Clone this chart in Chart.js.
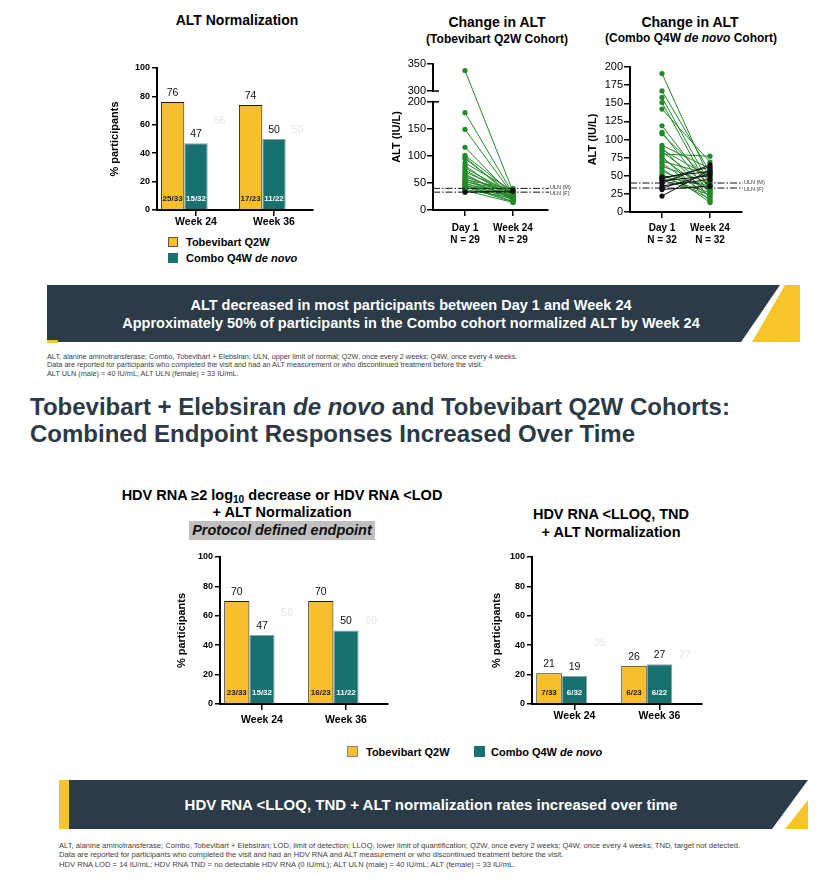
<!DOCTYPE html>
<html><head><meta charset="utf-8">
<script src="https://cdn.jsdelivr.net/npm/chart.js@4.4.1/dist/chart.umd.min.js"></script>
<style>
body{margin:0;background:#fff;font-family:"Liberation Sans",Arial,sans-serif;}
#page{position:relative;width:833px;height:884px;overflow:hidden;background:#fff;}
.t{position:absolute;white-space:nowrap;transform:translate(-50%,-50%);font-weight:bold;color:#000;line-height:1.15;}
.l{position:absolute;white-space:nowrap;}
canvas{position:absolute;}
.sq{position:absolute;box-sizing:border-box;}
.fn{position:absolute;left:47px;color:#404040;white-space:nowrap;}
</style></head>
<body><div id="page">
<svg width="833" height="884" style="position:absolute;left:0;top:0">
  <polygon points="47,285 780,285 741,342 47,342" fill="#2B3B47"/>
  <polygon points="785,285 800,285 800,342 752,342" fill="#F7C42C"/>
  <rect x="47" y="340" width="11" height="3" fill="#F7C42C"/>
  <polygon points="69,780 808,780 772,829 69,829" fill="#2B3B47"/>
  <rect x="59" y="780" width="10" height="49" fill="#F7C42C"/>
  <polygon points="808,800 808,829 785,829" fill="#F7C42C"/>
</svg>

<div class="t" style="left:237px;top:20px;font-size:14px">ALT Normalization</div>
<div class="t" style="left:497px;top:22px;font-size:14px">Change in ALT</div>
<div class="t" style="left:497px;top:40px;font-size:12px">(Tobevibart Q2W Cohort)</div>
<div class="t" style="left:690px;top:22px;font-size:14px">Change in ALT</div>
<div class="t" style="left:691px;top:39px;font-size:12px">(Combo Q4W <i>de novo</i> Cohort)</div>

<div class="sq" style="left:168px;top:237px;width:10px;height:10px;background:#F8BF2C;border:1px solid #555"></div>
<div class="l" style="left:186px;top:235px;font-size:11px;font-weight:bold;line-height:14px">Tobevibart Q2W</div>
<div class="sq" style="left:168px;top:253px;width:10px;height:10px;background:#19716F"></div>
<div class="l" style="left:186px;top:251px;font-size:11px;font-weight:bold;line-height:14px">Combo Q4W <i>de novo</i></div>

<div class="t" style="left:411px;top:305px;font-size:14.5px;color:#fff">ALT decreased in most participants between Day 1 and Week 24</div>
<div class="t" style="left:411px;top:323px;font-size:14.5px;color:#fff">Approximately 50% of participants in the Combo cohort normalized ALT by Week 24</div>

<div class="fn" style="top:353px;line-height:8.3px;font-size:7.3px">ALT, alanine aminotransferase; Combo, Tobevibart + Elebsiran; ULN, upper limit of normal; Q2W, once every 2 weeks; Q4W, once every 4 weeks.<br>Data are reported for participants who completed the visit and had an ALT measurement or who discontinued treatment before the visit.<br>ALT ULN (male) = 40 IU/mL; ALT ULN (female) = 33 IU/mL.</div>

<div class="l" style="left:30px;top:393px;font-size:24px;font-weight:bold;color:#2B3A45;line-height:27px">Tobevibart + Elebsiran <i>de novo</i> and Tobevibart Q2W Cohorts:<br>Combined Endpoint Responses Increased Over Time</div>

<div class="t" style="left:282px;top:495px;font-size:14.5px">HDV RNA ≥2 log<span style="font-size:70%;vertical-align:-0.3em;line-height:0">10</span> decrease or HDV RNA &lt;LOD</div>
<div class="t" style="left:282px;top:512px;font-size:14.5px">+ ALT Normalization</div>
<div style="position:absolute;left:189px;top:521px;width:186px;height:19px;background:#C0C0C0;"></div>
<div class="t" style="left:282px;top:530px;font-size:14.5px;font-style:italic;color:#111">Protocol defined endpoint</div>
<div class="t" style="left:611px;top:514px;font-size:14.5px">HDV RNA &lt;LLOQ, TND</div>
<div class="t" style="left:611px;top:532px;font-size:14.5px">+ ALT Normalization</div>

<div class="sq" style="left:347px;top:746px;width:11px;height:11px;background:#F8BF2C;border:1px solid #888"></div>
<div class="l" style="left:366px;top:745px;font-size:11px;font-weight:bold;line-height:14px">Tobevibart Q2W</div>
<div class="sq" style="left:474px;top:746px;width:11px;height:11px;background:#19716F"></div>
<div class="l" style="left:491px;top:745px;font-size:11px;font-weight:bold;line-height:14px">Combo Q4W <i>de novo</i></div>

<div class="t" style="left:431px;top:805px;font-size:15px;color:#fff">HDV RNA &lt;LLOQ, TND + ALT normalization rates increased over time</div>

<div class="fn" style="left:59px;top:841px;line-height:9.3px;font-size:7.6px">ALT, alanine aminotransferase; Combo, Tobevibart + Elebsiran; LOD, limit of detection; LLOQ, lower limit of quantification; Q2W, once every 2 weeks; Q4W, once every 4 weeks; TND, target not detected.<br>Data are reported for participants who completed the visit and had an HDV RNA and ALT measurement or who discontinued treatment before the visit.<br>HDV RNA LOD = 14 IU/mL; HDV RNA TND = no detectable HDV RNA (0 IU/mL); ALT ULN (male) = 40 IU/mL; ALT (female) = 33 IU/mL.</div>

<canvas id="c1" width="217" height="186" style="left:108px;top:50px"></canvas>
<canvas id="c2" width="185" height="206" style="left:390px;top:54px"></canvas>
<canvas id="c3" width="184" height="205" style="left:586px;top:57px"></canvas>
<canvas id="c4" width="225" height="199" style="left:175px;top:537px"></canvas>
<canvas id="c5" width="222" height="197" style="left:490px;top:537px"></canvas>
</div>
<script>
// ---------- DATA ----------
const barGroups = ['Week 24', 'Week 36'];
// ALT normalization (%)
const altNormTob = [76, 74];
const altNormCombo = [47, 50];
const altNormGhost = [56, 50];
const altNormTobFrac = ['25/33', '17/23'];
const altNormComboFrac = ['15/32', '11/22'];
// HDV RNA >=2 log10 decrease or <LOD + ALT normalization (%)
const protoTob = [70, 70];
const protoCombo = [47, 50];
const protoGhost = [56, 50];
const protoTobFrac = ['23/33', '16/23'];
const protoComboFrac = ['15/32', '11/22'];
// HDV RNA <LLOQ, TND + ALT normalization (%)
const lloqTob = [21, 26];
const lloqCombo = [19, 27];
const lloqGhost = [35, 27];
const lloqTobFrac = ['7/33', '6/23'];
const lloqComboFrac = ['6/32', '6/22'];
const barTicks = [0, 20, 40, 60, 80, 100];

// Change in ALT, Tobevibart Q2W cohort (IU/L)
const tobGreenDay1 = [338, 180, 149, 116, 101, 98, 95, 87, 82, 78, 74, 70, 67, 64, 61, 58, 56, 54, 52, 50, 48, 46, 45, 43, 42, 40, 38, 36];
const tobGreenWk24 = [34, 30, 28, 25, 32, 22, 27, 36, 20, 29, 24, 33, 18, 26, 31, 21, 38, 23, 35, 19, 30, 16, 27, 15, 25, 40, 22, 14];
const tobBlackDay1 = [33];
const tobBlackWk24 = [35];
const tobYTicks = [0, 50, 100, 150, 200, 300, 350];
// Change in ALT, Combo Q4W de novo cohort (IU/L)
const comboGreenDay1 = [191, 167, 158, 151, 142, 119, 110, 108, 92, 89, 86, 83, 80, 77, 74, 70, 67, 63, 60, 56, 52, 49, 47, 44];
const comboGreenWk24 = [45, 55, 38, 30, 69, 33, 25, 42, 60, 20, 48, 35, 77, 15, 28, 52, 22, 40, 13, 32, 18, 36, 27, 24];
const comboBlackDay1 = [48, 46, 43, 40, 36, 33, 31, 22];
const comboBlackWk24 = [56, 62, 50, 65, 45, 53, 36, 58];
const comboYTicks = [0, 25, 50, 75, 100, 125, 150, 175, 200];
const timepoints = ['Day 1', 'Week 24'];
const tobN = 29, comboN = 32;
const ulnValues = [40, 33];
const ulnLabels = ['ULN (M)', 'ULN (F)'];

// ---------- STYLE ----------
const YEL = '#F8BF2C', TEAL = '#19716F', GREEN = '#23892A', BLACK = '#111';
const FONT = '"Liberation Sans", Arial, sans-serif';
Chart.defaults.font.family = FONT;
Chart.defaults.color = '#000';

const barLabelPlugin = {
  id: 'barLabels',
  afterDatasetsDraw(chart) {
    const ctx = chart.ctx;
    chart.data.datasets.forEach((ds, di) => {
      const meta = chart.getDatasetMeta(di);
      meta.data.forEach((bar, i) => {
        ctx.save();
        ctx.textAlign = 'center'; ctx.textBaseline = 'middle';
        ctx.font = '10.5px ' + FONT;
        ctx.fillStyle = ds.valueColor;
        ctx.fillText(String(ds.data[i]), bar.x, bar.y - 9);
        if (ds.fracs) {
          ctx.font = 'bold 8px ' + FONT;
          ctx.fillStyle = ds.fracColor;
          ctx.fillText(ds.fracs[i], bar.x, bar.base - 10);
        }
        ctx.restore();
      });
    });
  }
};

function makeBar(id, c) {
  return new Chart(document.getElementById(id), {
    type: 'bar',
    data: { labels: barGroups, datasets: [
      { data: c.tob, backgroundColor: YEL, borderColor: '#1a1a1a', borderWidth: 1, fracs: c.tobFrac, fracColor: '#1a1a1a', valueColor: '#111' },
      { data: c.combo, backgroundColor: TEAL, borderColor: '#8aa3a4', borderWidth: 1, fracs: c.comboFrac, fracColor: '#fff', valueColor: '#111' },
      { data: c.ghost, backgroundColor: 'rgba(0,0,0,0)', borderWidth: 0, valueColor: '#e3e8ee' }
    ]},
    options: {
      responsive: false, animation: false, devicePixelRatio: 1,
      layout: { padding: { top: c.padTop, right: c.padRight, left: 0, bottom: 0 } },
      plugins: { legend: { display: false }, tooltip: { enabled: false } },
      datasets: { bar: { categoryPercentage: 0.9, barPercentage: 1.0 } },
      scales: {
        x: {
          grid: { offset: false, drawOnChartArea: false, drawTicks: true, tickLength: 6, color: '#000', lineWidth: 1.5 },
          border: { display: true, color: '#000', width: 2 },
          ticks: { font: { weight: 'bold', size: 10.5 }, color: '#000', padding: c.xPad, maxRotation: 0 },
          afterFit(s) { s.height = c.xH; }
        },
        y: {
          min: 0, max: 100,
          afterBuildTicks(s) { s.ticks = barTicks.map(v => ({ value: v })); },
          ticks: { font: { weight: 'bold', size: 9 }, color: '#000', padding: 2 },
          grid: { drawOnChartArea: false, drawTicks: true, tickLength: 5, color: '#000', lineWidth: 1.5 },
          border: { display: true, color: '#000', width: 2 },
          title: { display: true, text: '% participants', font: { weight: 'bold', size: 11 }, color: '#000', padding: 0 },
          afterFit(s) { s.width = c.yW; }
        }
      }
    },
    plugins: [barLabelPlugin]
  });
}

makeBar('c1', { tob: altNormTob, combo: altNormCombo, ghost: altNormGhost, tobFrac: altNormTobFrac, comboFrac: altNormComboFrac, padTop: 18, padRight: 12, xH: 26, xPad: 0, yW: 49 });
makeBar('c4', { tob: protoTob, combo: protoCombo, ghost: protoGhost, tobFrac: protoTobFrac, comboFrac: protoComboFrac, padTop: 20, padRight: 12, xH: 32, xPad: 4, yW: 45 });
makeBar('c5', { tob: lloqTob, combo: lloqCombo, ghost: lloqGhost, tobFrac: lloqTobFrac, comboFrac: lloqComboFrac, padTop: 20, padRight: 10, xH: 30, xPad: 0, yW: 42 });

const ulnPlugin = {
  id: 'uln',
  afterDatasetsDraw(chart) {
    const { ctx, chartArea: a } = chart;
    const y = chart.scales.y;
    ulnValues.forEach((v, i) => {
      const p = y.getPixelForValue(chart.$map(v));
      ctx.save();
      ctx.setLineDash([7, 2, 1.5, 2]);
      ctx.strokeStyle = '#111'; ctx.lineWidth = 1;
      ctx.beginPath(); ctx.moveTo(a.left, p); ctx.lineTo(a.right + 1, p); ctx.stroke();
      ctx.setLineDash([]);
      ctx.font = '5.5px ' + FONT; ctx.fillStyle = '#333'; ctx.textBaseline = 'middle';
      ctx.fillText(ulnLabels[i], a.right + 2, p + (i === 0 ? -1 : 1.5));
      ctx.restore();
    });
  }
};

const breakPlugin = {
  id: 'axisBreak',
  afterDraw(chart) {
    if (!chart.$break) return;
    const { ctx, chartArea: a } = chart;
    const y = chart.scales.y;
    const pTop = y.getPixelForValue(chart.$map(chart.$break[1]));
    const pBot = y.getPixelForValue(chart.$map(chart.$break[0]));
    ctx.save();
    ctx.fillStyle = '#fff';
    ctx.fillRect(a.left - 2, pTop + 1, 4, pBot - pTop - 2);
    ctx.strokeStyle = '#000'; ctx.lineWidth = 1.5;
    [pTop, pBot].forEach(p => { ctx.beginPath(); ctx.moveTo(a.left, p); ctx.lineTo(a.left + 6, p); ctx.stroke(); });
    ctx.restore();
  }
};

function makeScatter(id, c) {
  const map = c.map;
  const sets = [];
  const add = (d1, w24, col) => d1.forEach((v, i) => sets.push({
    data: [{ x: 1, y: map(v) }, { x: 2, y: map(w24[i]) }],
    borderColor: col, backgroundColor: col, borderWidth: 1,
    pointRadius: 2.6, pointBackgroundColor: col, pointBorderWidth: 0
  }));
  add(c.blackD1, c.blackW24, BLACK);
  add(c.greenD1, c.greenW24, GREEN);
  const ch = new Chart(document.getElementById(id), {
    type: 'line',
    data: { datasets: sets },
    options: {
      responsive: false, animation: false, devicePixelRatio: 1,
      layout: { padding: { top: 10, right: c.padRight, left: 0, bottom: 0 } },
      plugins: { legend: { display: false }, tooltip: { enabled: false } },
      scales: {
        x: {
          type: 'linear', min: c.xMin, max: c.xMax,
          afterBuildTicks(s) { s.ticks = [{ value: 1 }, { value: 2 }]; },
          ticks: { font: { weight: 'bold', size: 10, lineHeight: 1.2 }, color: '#000', padding: c.xPad,
                   callback: v => [timepoints[v - 1], 'N = ' + c.n] },
          grid: { drawOnChartArea: false, drawTicks: true, tickLength: 6, color: '#000', lineWidth: 1.5 },
          border: { display: true, color: '#000', width: 2 },
          afterFit(s) { s.height = 50; }
        },
        y: {
          min: 0, max: map(c.yTicks[c.yTicks.length - 1]),
          afterBuildTicks(s) { s.ticks = c.yTicks.map(v => ({ value: map(v) })); },
          ticks: { font: { size: 11 }, color: '#000', padding: 1,
                   callback: (v) => { const t = c.yTicks.find(k => map(k) === v); return t === undefined ? '' : String(t); } },
          grid: { drawOnChartArea: false, drawTicks: true, tickLength: 6, color: '#000', lineWidth: 1.5 },
          border: { display: true, color: '#000', width: 2 },
          title: { display: true, text: 'ALT (IU/L)', font: { weight: 'bold', size: 11 }, color: '#000', padding: 0 },
          afterFit(s) { s.width = c.yW; }
        }
      }
    },
    plugins: [ulnPlugin, breakPlugin, { id: 'setup', beforeInit(chart) { chart.$map = map; chart.$break = c.brk; } }]
  });
  return ch;
}

// broken axis: values >= 300 are shifted down by 80 so 300 sits just above 200
const tobMap = v => (v >= 300 ? v - 80 : v);
makeScatter('c2', { map: tobMap, brk: [200, 300], greenD1: tobGreenDay1, greenW24: tobGreenWk24, blackD1: tobBlackDay1, blackW24: tobBlackWk24,
  yTicks: tobYTicks, n: tobN, xMin: 1 - 32 / 48, xMax: 1 - 32 / 48 + 115 / 48, padRight: 27, yW: 43, xPad: 6 });
makeScatter('c3', { map: v => v, brk: null, greenD1: comboGreenDay1, greenW24: comboGreenWk24, blackD1: comboBlackDay1, blackW24: comboBlackWk24,
  yTicks: comboYTicks, n: comboN, xMin: 1 - 32 / 48, xMax: 1 - 32 / 48 + 112 / 48, padRight: 28, yW: 44, xPad: 4 });
</script>
</body></html>
